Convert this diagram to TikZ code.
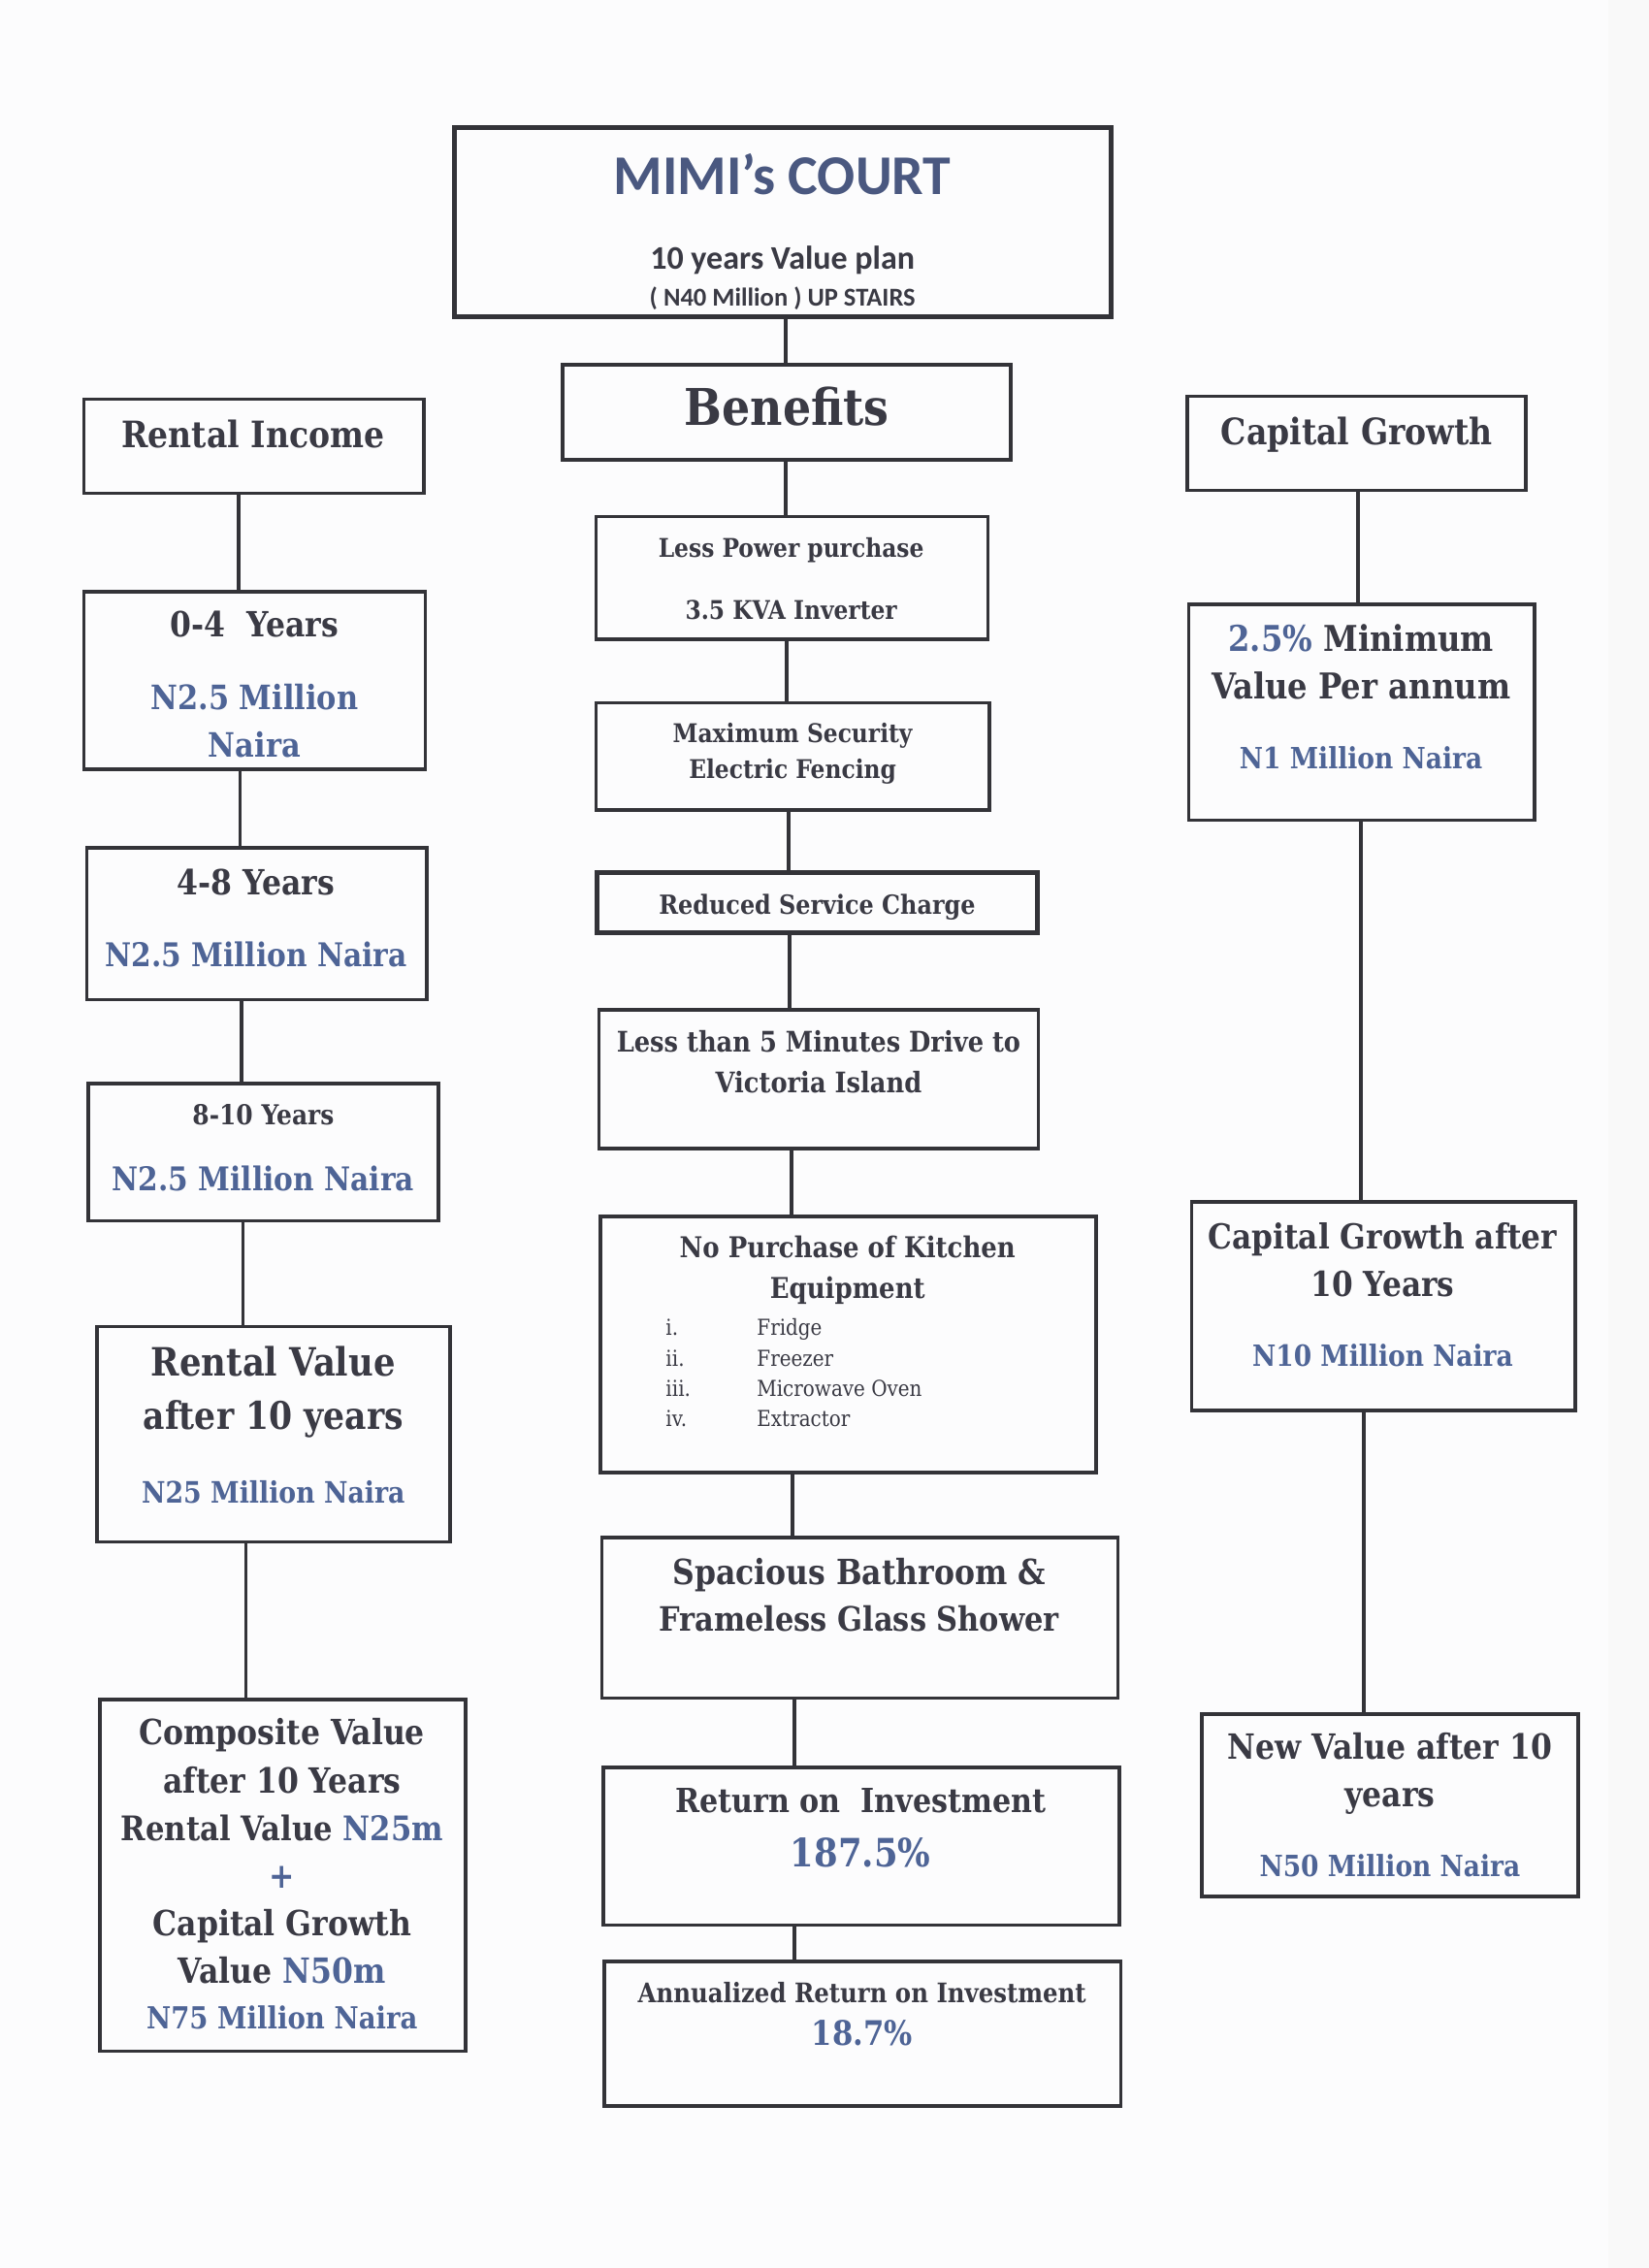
\documentclass[tikz,border=0pt]{standalone}
\usepackage{fontspec}
\setmainfont{DejaVu Serif}[FakeStretch=0.88]
\newfontfamily\calib{Carlito}
\usetikzlibrary{fit}
\definecolor{ink}{HTML}{3A3A44}
\definecolor{nblue}{HTML}{4E6496}
\definecolor{tblue}{HTML}{4A5880}
\definecolor{edgec}{HTML}{333338}
\definecolor{paper}{HTML}{FCFCFD}
\newcommand{\fsz}[1]{\fontsize{#1}{#1}\selectfont}
\tikzset{
  box/.style={draw=edgec, line width=1.2pt, inner sep=0pt},
  heavybox/.style={draw=edgec, line width=1.7pt, inner sep=0pt},
  txt/.style={inner sep=0pt, text=ink, font=\bfseries, anchor=center, text height=0.94em, text depth=0.1em},
  ltxt/.style={txt, anchor=west},
  conn/.style={draw=edgec, line width=1.3pt},
}
\begin{document}
\begin{tikzpicture}[x=0.5pt,y=-0.5pt]
\useasboundingbox (0,0) rectangle (1140,1568);
\fill[paper] (0,0) rectangle (1140,1568);
\fill[gray!5] (1112,0) rectangle (1140,1568);

% ---------- centre column ----------
\node[heavybox, fit={(314,88) (768,219)}] (tt) {};
\node[txt, text=tblue, font=\calib\bfseries\fsz{19.4}] (tt1) at (541,126) {MIMI’s COURT};
\node[txt, font=\calib\bfseries\fsz{11.4}] (tt2) at (541,178) {10 years Value plan};
\node[txt, font=\calib\bfseries\fsz{8.9}] (tt3) at (541,203) {( N40 Million ) UP STAIRS};

\node[box, fit={(389,252) (699,318)}] (bn) {};
\node[txt, font=\bfseries\fsz{17.5}] (bn1) at (544,286) {Benefits};

\node[box, fit={(412,357) (683,442)}] (c1) {};
\node[txt, font=\bfseries\fsz{8.9}] (c1a) at (547,377) {Less Power purchase};
\node[txt, font=\bfseries\fsz{8.9}] (c1b) at (547,420) {3.5 KVA Inverter};

\node[box, fit={(412,486) (684,560)}] (c2) {};
\node[txt, font=\bfseries\fsz{8.9}] (c2a) at (548,505) {Maximum Security};
\node[txt, font=\bfseries\fsz{8.9}] (c2b) at (548,530) {Electric Fencing};

\node[heavybox, fit={(413,603) (717,645)}] (c3) {};
\node[txt, font=\bfseries\fsz{9.1}] (c3a) at (565,624) {Reduced Service Charge};

\node[box, fit={(414,698) (718,794)}] (c4) {};
\node[txt, font=\bfseries\fsz{9.8}] (c4a) at (566,719) {Less than 5 Minutes Drive to};
\node[txt, font=\bfseries\fsz{9.8}] (c4b) at (566,747) {Victoria Island};

\node[box, fit={(415,841) (758,1018)}] (c5) {};
\node[txt, font=\bfseries\fsz{9.9}] (c5a) at (586,861) {No Purchase of Kitchen};
\node[txt, font=\bfseries\fsz{9.9}] (c5b) at (586,889) {Equipment};
\node[ltxt, font=\mdseries\fsz{7.6}] (k1) at (460,915) {i.};
\node[ltxt, font=\mdseries\fsz{7.6}] (k2) at (460,936) {ii.};
\node[ltxt, font=\mdseries\fsz{7.6}] (k3) at (460,957) {iii.};
\node[ltxt, font=\mdseries\fsz{7.6}] (k4) at (460,978) {iv.};
\node[ltxt, font=\mdseries\fsz{7.6}] (k1t) at (523,915) {Fridge};
\node[ltxt, font=\mdseries\fsz{7.6}] (k2t) at (523,936) {Freezer};
\node[ltxt, font=\mdseries\fsz{7.6}] (k3t) at (523,957) {Microwave Oven};
\node[ltxt, font=\mdseries\fsz{7.6}] (k4t) at (523,978) {Extractor};

\node[box, fit={(416,1063) (773,1174)}] (c6) {};
\node[txt, font=\bfseries\fsz{12}] (c6a) at (594,1087) {Spacious Bathroom \&};
\node[txt, font=\bfseries\fsz{11.6}] (c6b) at (594,1119) {Frameless Glass Shower};

\node[box, fit={(417,1222) (774,1331)}] (c7) {};
\node[txt, font=\bfseries\fsz{11.5}] (c7a) at (595,1245) {Return on\ \ Investment};
\node[txt, text=nblue, font=\bfseries\fsz{13.5}] (c7b) at (595,1282) {187.5\%};

\node[box, fit={(418,1356) (775,1456)}] (c8) {};
\node[txt, font=\bfseries\fsz{9.3}] (c8a) at (596,1376) {Annualized Return on Investment};
\node[txt, text=nblue, font=\bfseries\fsz{11.7}] (c8b) at (596,1406) {18.7\%};

% ---------- left column ----------
\node[box, fit={(58,276) (293,341)}] (l1) {};
\node[txt, font=\bfseries\fsz{12.6}] (l1a) at (175,301) {Rental Income};

\node[box, fit={(58,409) (294,532)}] (l2) {};
\node[txt, font=\bfseries\fsz{12}] (l2a) at (176,432) {0-4\ \ Years};
\node[txt, text=nblue, font=\bfseries\fsz{11.6}] (l2b) at (176,482) {N2.5 Million};
\node[txt, text=nblue, font=\bfseries\fsz{11.6}] (l2c) at (176,515) {Naira};

\node[box, fit={(60,586) (295,691)}] (l3) {};
\node[txt, font=\bfseries\fsz{12}] (l3a) at (177,610) {4-8 Years};
\node[txt, text=nblue, font=\bfseries\fsz{11.3}] (l3b) at (177,660) {N2.5 Million Naira};

\node[box, fit={(61,749) (303,844)}] (l4) {};
\node[txt, font=\bfseries\fsz{9.5}] (l4a) at (182,769) {8-10 Years};
\node[txt, text=nblue, font=\bfseries\fsz{11.3}] (l4b) at (182,815) {N2.5 Million Naira};

\node[box, fit={(67,917) (311,1066)}] (l5) {};
\node[txt, font=\bfseries\fsz{13.5}] (l5a) at (189,943) {Rental Value};
\node[txt, font=\bfseries\fsz{13.2}] (l5b) at (189,980) {after 10 years};
\node[txt, text=nblue, font=\bfseries\fsz{10.2}] (l5c) at (189,1031) {N25 Million Naira};

\node[box, fit={(69,1175) (322,1418)}] (l6) {};
\node[txt, font=\bfseries\fsz{12}] (l6a) at (195,1198) {Composite Value};
\node[txt, font=\bfseries\fsz{12}] (l6b) at (195,1231) {after 10 Years};
\node[txt, font=\bfseries\fsz{11.7}] (l6c) at (195,1264) {Rental Value \textcolor{nblue}{N25m}};
\node[txt, text=nblue, font=\bfseries\fsz{12}] (l6d) at (195,1297) {+};
\node[txt, font=\bfseries\fsz{12}] (l6e) at (195,1330) {Capital Growth};
\node[txt, font=\bfseries\fsz{12}] (l6f) at (195,1363) {Value \textcolor{nblue}{N50m}};
\node[txt, text=nblue, font=\bfseries\fsz{10.5}] (l6g) at (195,1394) {N75 Million Naira};

% ---------- right column ----------
\node[box, fit={(821,274) (1055,339)}] (r1) {};
\node[txt, font=\bfseries\fsz{12.6}] (r1a) at (938,299) {Capital Growth};

\node[box, fit={(822,418) (1061,567)}] (r2) {};
\node[txt, font=\bfseries\fsz{12.3}] (r2a) at (941,442) {\textcolor{nblue}{2.5\%} Minimum};
\node[txt, font=\bfseries\fsz{12.3}] (r2b) at (941,475) {Value Per annum};
\node[txt, text=nblue, font=\bfseries\fsz{10.1}] (r2c) at (941,523) {N1 Million Naira};

\node[box, fit={(824,831) (1089,975)}] (r3) {};
\node[txt, font=\bfseries\fsz{11.9}] (r3a) at (956,855) {Capital Growth after};
\node[txt, font=\bfseries\fsz{11.9}] (r3b) at (956,888) {10 Years};
\node[txt, text=nblue, font=\bfseries\fsz{10.1}] (r3c) at (956,936) {N10 Million Naira};

\node[box, fit={(831,1185) (1091,1311)}] (r4) {};
\node[txt, font=\bfseries\fsz{12}] (r4a) at (961,1208) {New Value after 10};
\node[txt, font=\bfseries\fsz{12}] (r4b) at (961,1241) {years};
\node[txt, text=nblue, font=\bfseries\fsz{10.1}] (r4c) at (961,1289) {N50 Million Naira};

% ---------- connectors ----------
\draw[conn] (tt.south -| 543,0) -- (bn.north -| 543,0);
\draw[conn] (bn.south -| 543,0) -- (c1.north -| 543,0);
\draw[conn] (c1.south -| 544,0) -- (c2.north -| 544,0);
\draw[conn] (c2.south -| 545,0) -- (c3.north -| 545,0);
\draw[conn] (c3.south -| 546,0) -- (c4.north -| 546,0);
\draw[conn] (c4.south -| 547,0) -- (c5.north -| 547,0);
\draw[conn] (c5.south -| 548,0) -- (c6.north -| 548,0);
\draw[conn] (c6.south -| 549,0) -- (c7.north -| 549,0);
\draw[conn] (c7.south -| 549,0) -- (c8.north -| 549,0);

\draw[conn] (l1.south -| 165,0) -- (l2.north -| 165,0);
\draw[conn] (l2.south -| 166,0) -- (l3.north -| 166,0);
\draw[conn] (l3.south -| 167,0) -- (l4.north -| 167,0);
\draw[conn] (l4.south -| 168,0) -- (l5.north -| 168,0);
\draw[conn] (l5.south -| 170,0) -- (l6.north -| 170,0);

\draw[conn] (r1.south -| 939,0) -- (r2.north -| 939,0);
\draw[conn] (r2.south -| 941,0) -- (r3.north -| 941,0);
\draw[conn] (r3.south -| 943,0) -- (r4.north -| 943,0);
\end{tikzpicture}
\end{document}
